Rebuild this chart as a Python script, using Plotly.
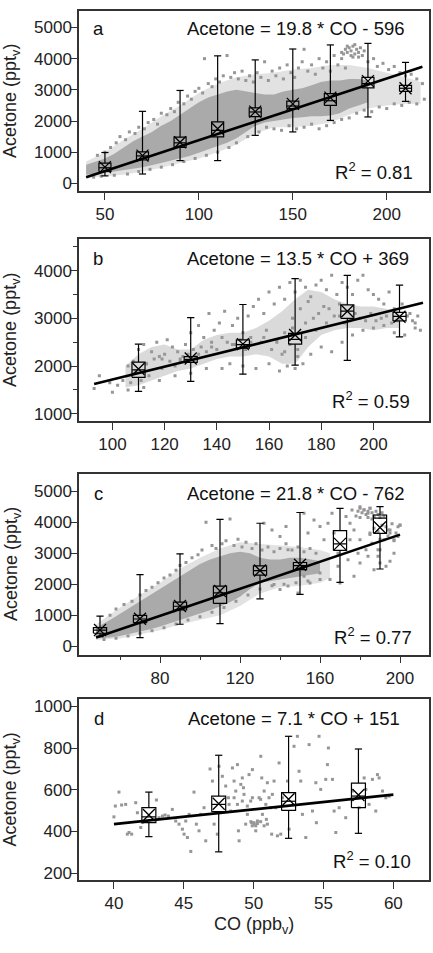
import plotly.graph_objects as go

# ---------------- data ----------------
# Panel a
A_BOX_X = [50, 70, 90, 110, 130, 150, 170, 190, 210]
A_MIN = [240, 300, 730, 730, 1540, 1650, 2020, 2130, 2630]
A_Q1 = [380, 750, 1150, 1490, 2140, 2400, 2500, 3060, 2950]
A_MED = [500, 880, 1300, 1700, 2290, 2480, 2650, 3200, 3050]
A_Q3 = [650, 1010, 1480, 1970, 2420, 2640, 2880, 3400, 3140]
A_MAX = [990, 2310, 2980, 4090, 3960, 4310, 4440, 4490, 3880]
A_MEAN = [520, 890, 1320, 1750, 2300, 2550, 2750, 3280, 3050]

A_CORE_X = [40, 45, 50, 55, 60, 65, 70, 75, 80, 85, 90, 95, 100, 105, 110, 115, 120, 125, 130, 135, 140, 145, 150, 155, 160, 165, 170, 175, 180, 185, 190]
A_CORE_LO = [280, 300, 330, 380, 420, 470, 520, 580, 650, 730, 800, 880, 980, 1080, 1180, 1300, 1450, 1650, 1850, 1950, 2000, 2050, 2100, 2120, 2150, 2150, 2180, 2250, 2400, 2500, 2600]
A_CORE_HI = [600, 700, 800, 950, 1150, 1350, 1500, 1650, 1850, 2000, 2200, 2400, 2600, 2750, 2850, 2950, 3000, 2950, 2900, 2850, 2850, 2950, 3000, 3050, 3150, 3250, 3300, 3300, 3350, 3350, 3300]
A_HALO_X = [40, 50, 60, 70, 80, 90, 100, 110, 120, 130, 140, 150, 160, 170, 180, 190, 200, 210, 218]
A_HALO_LO = [180, 220, 280, 380, 500, 650, 800, 1000, 1250, 1600, 1800, 1800, 1850, 1950, 2200, 2400, 2500, 2550, 2550]
A_HALO_HI = [700, 1000, 1400, 1750, 2150, 2500, 2900, 3200, 3400, 3500, 3550, 3650, 3700, 3800, 3800, 3700, 3550, 3400, 3250]
A_PTS_X = [46, 50, 53, 56, 58, 61, 63, 66, 68, 71, 73, 76, 78, 80, 83, 85, 87, 89, 92, 94, 96, 98, 100, 102, 103, 105, 107, 109, 111, 113, 115, 117, 119, 121, 123, 125, 127, 129, 131, 133, 135, 137, 139, 141, 143, 145, 147, 149, 151, 153, 155, 156, 158, 160, 162, 164, 166, 168, 170, 172, 174, 176, 178, 190, 193, 195, 198, 201, 204, 207, 210, 213, 216, 219,
           44, 48, 55, 62, 68, 74, 80, 86, 92, 98, 104, 110, 116, 120, 126, 132, 136, 140, 144, 148, 152, 156, 160, 164, 168, 172, 176, 180, 184, 188, 192, 196, 200, 204, 208, 212, 216, 220,
           177, 178, 179, 180, 181, 182, 183, 184, 185, 186, 187, 181, 183, 179, 185, 188, 176, 182]
A_PTS_Y = [900, 1000, 1150, 1300, 1500, 1400, 1650, 1600, 1800, 1750, 1950, 2050, 1900, 2250, 2200, 2400, 2300, 2600, 2550, 2800, 2700, 2950, 3050, 2900, 4000, 3200, 3100, 3350, 3250, 3450, 4100, 3400, 3550, 3350, 3600, 3300, 3450, 3250, 3550, 3400, 3900, 3300, 3600, 3450, 3700, 3350, 3800, 3550, 3400, 3700, 3900, 4300, 3600, 3800, 3500, 4000, 3700, 3900, 3600, 4100, 3800, 4000, 3700, 3900, 4000, 3750, 3850, 3650, 3750, 3550, 3450, 3500, 3350, 3200,
           200, 230, 260, 300, 380, 450, 520, 600, 700, 800, 900, 1000, 1150, 1300, 1500, 1650, 1800, 1750, 1700, 1850, 1750, 1800, 1900, 1750, 1850, 1950, 2050, 2100, 2250, 2350, 2300, 2450, 2400, 2550, 2500, 2600, 2550, 2700,
           4150, 4300, 4200, 4350, 4250, 4400, 4150, 4300, 4200, 4350, 4100, 4100, 4450, 4400, 4050, 4250, 4200, 4050]

# Panel b
B_BOX_X = [110, 130, 150, 170, 190, 210]
B_MIN = [1470, 1680, 1830, 2020, 2120, 2610]
B_Q1 = [1765, 2080, 2375, 2460, 3000, 2945]
B_MED = [1920, 2140, 2450, 2560, 3150, 3040]
B_Q3 = [2085, 2200, 2550, 2685, 3280, 3125]
B_MAX = [2460, 3015, 3290, 3830, 3900, 3695]
B_MEAN = [1940, 2160, 2460, 2650, 3150, 3035]

B_CORE_X = [105, 110, 115, 120, 125, 130, 135, 140, 145, 150, 155, 160, 165, 170, 175, 180, 185, 190, 195, 200, 205, 210]
B_CORE_LO = [1550, 1600, 1700, 1800, 1900, 1950, 2050, 2150, 2200, 2200, 2250, 2200, 2050, 2050, 2400, 2650, 2750, 2800, 2800, 2750, 2800, 2800]
B_CORE_HI = [2000, 2250, 2400, 2450, 2350, 2350, 2550, 2650, 2700, 2700, 2800, 2950, 3150, 3400, 3600, 3550, 3400, 3300, 3250, 3250, 3200, 3150]
B_PTS_X = [93, 95, 99, 100, 102, 104, 106, 108, 110, 112, 115, 117, 118, 121, 123, 125, 127, 128, 130, 131, 133, 135, 137, 139, 141, 143, 144, 146, 148, 150, 152, 154, 156, 158, 160, 162, 164, 166, 168, 170, 172, 174, 176, 178, 180, 182, 184, 186, 188, 190, 192, 194, 196, 198, 200, 202, 204, 206, 208, 211, 214, 216, 218,
           106, 112, 118, 124, 130, 136, 142, 145, 150, 155, 160, 164, 167, 170, 173, 176, 180, 184, 188, 192, 196, 200, 204, 208, 212, 216,
           108, 113, 119, 126, 133, 138, 147, 153, 158, 163, 166, 169, 171, 174, 179, 183, 187, 191, 197, 203, 209, 213,
           107, 109, 111, 113, 114, 116, 119, 120, 122, 124, 126, 129, 132, 134, 136, 138, 140, 142, 146, 149, 151, 153, 157, 159, 161, 163, 165, 166, 168, 169, 171, 172, 174, 175, 177, 178, 181, 182, 185, 187, 189, 193, 195, 199, 201, 205, 207, 210, 215, 217]
B_PTS_Y = [1530, 1800, 1650, 1450, 1600, 1700, 2000, 2100, 2350, 2450, 2300, 2500, 2200, 2550, 2400, 2300, 2200, 2450, 2700, 2350, 2850, 2600, 3100, 2750, 2900, 3150, 2500, 2850, 3000, 2700, 3050, 3250, 3400, 3100, 3550, 3300, 3650, 3400, 3750, 3550, 3800, 3650, 3450, 3700, 3800, 3600, 3900, 3500, 3750, 3650, 3500, 3800, 3900, 3600, 3500, 3400, 3300, 3550, 3200, 3300, 3100, 2900, 2750,
           1500, 1550, 1700, 1800, 1850, 1950, 1950, 2050, 2000, 1950, 2050, 1900, 2000, 1950, 2050, 2250, 2400, 2300, 2500, 2650, 2750, 2800, 2850, 2700, 2650, 2800,
           1850, 2050, 2150, 2100, 2250, 2400, 2450, 2500, 2600, 2500, 2300, 2800, 2200, 2900, 3100, 3200, 3050, 2950, 2950, 3000, 2950, 3050,
           1650, 1900, 1700, 2050, 1800, 2150, 1950, 2250, 2100, 2000, 2150, 2250, 2200, 2400, 2300, 2500, 2350, 2600, 2450, 2550, 2350, 2600, 2500, 2750, 2350, 2550, 2250, 2700, 2450, 3000, 2350, 3200, 2600, 3350, 3000, 2750, 3250, 2900, 3050, 3300, 2900, 3100, 3000, 3100, 2950, 3050, 2900, 3000, 2950, 3050]

# Panel c
C_BOX_X = [50, 70, 90, 110, 130, 150, 170, 190]
C_MIN = [310, 280, 710, 730, 1530, 1670, 2060, 2490]
C_Q1 = [420, 760, 1170, 1380, 2290, 2470, 3090, 3640]
C_MED = [520, 880, 1290, 1720, 2440, 2600, 3300, 4130]
C_Q3 = [600, 995, 1420, 1940, 2590, 2700, 3730, 4230]
C_MAX = [975, 2310, 2980, 4090, 3965, 4310, 4445, 4500]
C_MEAN = [525, 890, 1300, 1780, 2440, 2630, 3300, 3830]

C_CORE_X = [48, 55, 60, 65, 70, 75, 80, 85, 90, 95, 100, 105, 110, 115, 120, 125, 130, 135, 140, 145, 150, 155, 160]
C_CORE_LO = [250, 280, 330, 400, 470, 550, 640, 740, 850, 950, 1060, 1160, 1280, 1420, 1600, 1850, 2050, 2100, 2150, 2200, 2250, 2300, 2350]
C_CORE_HI = [600, 850, 1050, 1250, 1450, 1650, 1850, 2050, 2250, 2450, 2650, 2800, 2900, 3000, 3050, 3000, 2850, 2800, 2800, 2850, 2850, 2800, 2750]
C_HALO_X = [48, 60, 70, 80, 90, 100, 110, 120, 130, 140, 150, 160, 165]
C_HALO_LO = [200, 250, 380, 520, 700, 850, 1000, 1300, 1700, 1900, 1950, 2050, 2200]
C_HALO_HI = [700, 1250, 1650, 2050, 2500, 2850, 3150, 3350, 3300, 3250, 3200, 3100, 3000]
C_PTS_X = [55, 58, 62, 66, 70, 73, 76, 79, 82, 85, 88, 90, 93, 96, 99, 101, 103, 106, 108, 111, 113, 115, 117, 119, 121, 123, 126, 128, 131, 134, 137, 140, 143, 146, 149, 152, 155, 158,
           52, 58, 64, 70, 76, 82, 88, 94, 100, 106, 112, 118, 124, 130, 136, 142, 148, 154, 160,
           132, 136, 140, 143, 144, 152, 154, 157, 160, 162, 164, 166, 167, 169, 173, 175, 175, 176, 177, 179, 180, 182, 184, 185, 187, 180, 183, 185, 186, 189, 192, 194, 195, 197, 199, 200,
           160, 165, 169, 170, 174, 177, 180, 184, 187, 190, 193, 195, 152, 155, 144, 149, 137, 140, 189, 197, 190,
           178, 179, 180, 181, 182, 183, 184, 185, 186, 187, 188, 189, 190, 191, 180, 184, 186, 192,
           185, 187, 189, 191, 193, 195, 196, 198, 199, 200, 194, 197, 190]
C_PTS_Y = [1000, 1200, 1350, 1450, 1650, 1800, 1900, 2050, 2200, 2300, 2450, 2600, 2700, 2850, 2950, 3100, 4000, 3250, 3150, 3300, 3400, 4100, 3250, 3450, 3200, 3350, 3150, 3300, 3100, 3200, 3050, 3150, 3300, 3100, 3200, 3050, 3150, 3000,
           220, 260, 330, 420, 500, 600, 720, 850, 950, 1100, 1250, 1450, 1650, 1850, 1950, 2000, 2050, 2100, 2150,
           3965, 3750, 3540, 3860, 3110, 4290, 3650, 4070, 3860, 3430, 3965, 4290, 3650, 3000, 4180, 3965, 3430, 4390, 3750, 3000, 4500, 4390, 4290, 4450, 4180, 3430, 3110, 3650, 3320, 3110, 3430, 3750, 3650, 3430, 3540, 3910,
           2360, 2150, 2580, 2040, 2790, 2260, 2680, 2900, 2470, 2680, 2580, 2740, 2260, 2040, 1940, 1720, 1990, 1830, 2900, 3000, 3110,
           4200, 4350, 4450, 4300, 4400, 4250, 4350, 4450, 4300, 4200, 4350, 4250, 4150, 4300, 4150, 4150, 4100, 4200,
           3600, 3800, 3700, 3900, 3850, 3750, 3950, 3650, 3850, 3900, 3550, 3400, 3450]

# Panel d
D_BOX_X = [42.5, 47.5, 52.5, 57.5]
D_MIN = [375, 302, 367, 391]
D_Q1 = [442, 495, 501, 514]
D_MED = [470, 530, 545, 570]
D_Q3 = [514, 570, 586, 632]
D_MAX = [589, 766, 857, 796]
D_MEAN = [479, 533, 555, 575]
D_PTS_X = [40.36, 40.0, 40.1, 40.55, 40.84, 41.08, 41.27, 40.96, 41.56, 41.68, 41.92, 42.03, 43.04, 43.23, 43.47, 43.66, 43.9, 44.18, 44.42, 44.66,
           44.9, 45.02, 45.26, 45.5, 45.14, 45.38, 45.73, 45.9, 46.09, 46.21, 46.45, 46.57, 46.88, 47.05, 47.17, 47.4, 47.52, 47.76, 48.0, 48.19,
           48.24, 48.36, 48.48, 48.6, 48.72, 48.84, 48.91, 48.96, 49.08, 49.19, 49.27, 49.31, 49.43, 49.55, 49.67, 49.79, 49.86, 49.91, 50.03, 50.15,
           50.27, 50.39, 50.51, 50.58, 50.63, 50.75, 50.87, 50.91, 50.98, 51.1, 51.22, 51.29, 51.34, 51.46, 51.58, 51.7, 51.82, 51.94, 52.06, 52.89,
           53.13, 53.25, 53.37, 53.49, 53.73, 53.97, 54.21, 54.45, 54.49, 54.68, 54.8, 55.16, 55.28, 55.35, 55.64, 55.76, 55.88, 56.12, 56.59, 57.07,
           57.55, 57.91, 58.03, 58.26, 58.5, 58.74, 58.86, 58.98, 59.22, 59.46, 59.7,
           49.8, 50.03, 50.27, 50.5, 49.9, 50.15, 50.75, 50.98, 48.6, 48.84, 49.19, 49.55, 49.91, 50.5, 52.54, 52.42]
D_PTS_Y = [589, 470, 522, 527, 530, 395, 387, 387, 538, 490, 419, 443, 551, 466, 474, 479, 474, 506, 450, 435,
           411, 387, 371, 304, 450, 482, 589, 435, 403, 482, 514, 355, 700, 642, 435, 387, 713, 665, 618, 562,
           530, 498, 705, 642, 594, 721, 403, 355, 626, 657, 610, 578, 435, 482, 673, 546, 442, 697, 435, 403,
           450, 562, 761, 657, 482, 594, 530, 458, 634, 562, 514, 387, 578, 642, 514, 379, 729, 387, 562, 809,
           857, 689, 642, 482, 371, 817, 498, 634, 442, 857, 602, 650, 721, 801, 650, 498, 395, 514, 466, 594,
           514, 657, 602, 530, 650, 498, 673, 657, 594, 562, 570,
           447, 442, 438, 447, 427, 427, 427, 435, 562, 530, 546, 522, 562, 554, 411, 642]

SLOPE = [19.8, 13.5, 21.8, 7.1]
INTERCEPT = [-596, 369, -762, 151]
FIT_X0 = [40, 93, 48, 40]
FIT_X1 = [219, 219, 200, 60]
EQ_TEXT = ["Acetone = 19.8 * CO - 596", "Acetone = 13.5 * CO + 369",
           "Acetone = 21.8 * CO - 762", "Acetone = 7.1 * CO + 151"]
R2_TEXT = ["0.81", "0.59", "0.77", "0.10"]
LETTERS = ["a", "b", "c", "d"]

# ---------------- layout geometry ----------------
W, H = 433, 953
X_DOM = [79 / W, 429 / W]
PANEL_PX = [(9, 190), (238.3, 421), (474, 656), (700.7, 882.7)]
X_RANGES = [[36.2, 222.5], [87.2, 221.3], [39.5, 214.5], [37.5, 62.55]]
Y_RANGES = [[-245, 5530], [855, 4660], [-266, 5567], [166.5, 1036]]
X_TICKS = [[50, 100, 150, 200], [100, 120, 140, 160, 180, 200], [80, 120, 160, 200], [40, 45, 50, 55, 60]]
Y_TICKS = [[0, 1000, 2000, 3000, 4000, 5000], [1000, 2000, 3000, 4000],
           [0, 1000, 2000, 3000, 4000, 5000], [200, 400, 600, 800, 1000]]
X_MINOR = [None, None, [60, 100, 140, 180], None]
Y_MINOR = [None, [1500, 2500, 3500, 4500], None, None]
BOX_HALF = [3.2, 2.5, 3.3, 0.5]
CAP_HALF = [1.9, 1.4, 1.8, 0.26]
EQ_POS = [(407, 27), (410.7, 258), (406.7, 494), (402.3, 720)]
R2_POS = [(415, 170), (412, 400), (414, 637), (413, 863)]
LETTER_POS = [(91, 27), (91, 258), (92, 494), (92, 720)]

GRAY = "rgb(150,150,150)"
FONT = "Liberation Sans, Arial, sans-serif"

fig = go.Figure()

panels = [
    dict(box=(A_BOX_X, A_MIN, A_Q1, A_MED, A_Q3, A_MAX, A_MEAN),
         halo=(A_HALO_X, A_HALO_LO, A_HALO_HI), core=(A_CORE_X, A_CORE_LO, A_CORE_HI),
         pts=(A_PTS_X, A_PTS_Y), halo_op=0.28, core_col="rgb(170,170,170)"),
    dict(box=(B_BOX_X, B_MIN, B_Q1, B_MED, B_Q3, B_MAX, B_MEAN),
         halo=None, core=(B_CORE_X, B_CORE_LO, B_CORE_HI),
         pts=(B_PTS_X, B_PTS_Y), halo_op=0, core_col="rgba(150,150,150,0.35)"),
    dict(box=(C_BOX_X, C_MIN, C_Q1, C_MED, C_Q3, C_MAX, C_MEAN),
         halo=(C_HALO_X, C_HALO_LO, C_HALO_HI), core=(C_CORE_X, C_CORE_LO, C_CORE_HI),
         pts=(C_PTS_X, C_PTS_Y), halo_op=0.28, core_col="rgb(170,170,170)"),
    dict(box=(D_BOX_X, D_MIN, D_Q1, D_MED, D_Q3, D_MAX, D_MEAN),
         halo=None, core=None, pts=(D_PTS_X, D_PTS_Y), halo_op=0, core_col=GRAY),
]


def band(xs, lo, hi):
    return list(xs) + list(xs)[::-1] + [xs[0]], list(lo) + list(hi)[::-1] + [lo[0]]


for i, p in enumerate(panels):
    n = i + 1
    xa = "x" if n == 1 else f"x{n}"
    ya = "y" if n == 1 else f"y{n}"
    common = dict(xaxis=xa, yaxis=ya, showlegend=False, hoverinfo="skip")
    if p["halo"] is not None:
        hx, hy = band(*p["halo"])
        fig.add_trace(go.Scatter(x=hx, y=hy, mode="lines", fill="toself", line=dict(width=0),
                                 fillcolor=f"rgba(150,150,150,{p['halo_op']})", **common))
    if p["core"] is not None:
        cx, cy = band(*p["core"])
        fig.add_trace(go.Scatter(x=cx, y=cy, mode="lines", fill="toself", line=dict(width=0),
                                 fillcolor=p["core_col"], **common))
    fig.add_trace(go.Scatter(x=p["pts"][0], y=p["pts"][1], mode="markers",
                             marker=dict(symbol="square", size=3, color=GRAY, line=dict(width=0)), **common))

    bx, bmin, bq1, bmed, bq3, bmax, bmean = p["box"]
    hw, cw = BOX_HALF[i], CAP_HALF[i]
    lx, ly = [], []
    for x, mn, q1, md, q3, mx in zip(bx, bmin, bq1, bmed, bq3, bmax):
        lx += [x - hw, x + hw, x + hw, x - hw, x - hw, None]
        ly += [q1, q1, q3, q3, q1, None]
        lx += [x - hw, x + hw, None]
        ly += [md, md, None]
        lx += [x, x, None, x, x, None]
        ly += [q3, mx, None, q1, mn, None]
        lx += [x - cw, x + cw, None, x - cw, x + cw, None]
        ly += [mx, mx, None, mn, mn, None]
    fig.add_trace(go.Scatter(x=lx, y=ly, mode="lines", line=dict(color="black", width=1.2), **common))
    fig.add_trace(go.Scatter(x=bx, y=bmean, mode="markers",
                             marker=dict(symbol="x-thin-open", size=12, color="black",
                                         line=dict(color="black", width=1.3)), **common))
    fx = [FIT_X0[i], FIT_X1[i]]
    fy = [SLOPE[i] * v + INTERCEPT[i] for v in fx]
    fig.add_trace(go.Scatter(x=fx, y=fy, mode="lines", line=dict(color="black", width=2.6), **common))

    top, bot = PANEL_PX[i]
    axis_common = dict(showline=True, linecolor="#333", linewidth=1.5, mirror=True,
                       ticks="outside", ticklen=7, tickwidth=1.2, tickcolor="#333",
                       showgrid=False, zeroline=False,
                       tickfont=dict(family=FONT, size=17, color="#222"))
    xkw = dict(axis_common, domain=X_DOM, range=X_RANGES[i], tickmode="array",
               tickvals=X_TICKS[i], anchor=ya, ticklabelstandoff=0)
    if X_MINOR[i]:
        xkw["minor"] = dict(tickvals=X_MINOR[i], ticks="outside", ticklen=4, tickcolor="#333", showgrid=False)
    ykw = dict(axis_common, domain=[1 - bot / H, 1 - top / H], range=Y_RANGES[i], tickmode="array",
               tickvals=Y_TICKS[i], anchor=xa, ticklabelstandoff=-5)
    if Y_MINOR[i]:
        ykw["minor"] = dict(tickvals=Y_MINOR[i], ticks="outside", ticklen=4, tickcolor="#333", showgrid=False)
    fig.update_layout(**{("xaxis" if n == 1 else f"xaxis{n}"): xkw,
                         ("yaxis" if n == 1 else f"yaxis{n}"): ykw})

    afont = dict(family=FONT, size=18.5, color="#111")
    fig.add_annotation(x=LETTER_POS[i][0] / W, y=1 - LETTER_POS[i][1] / H, xref="paper", yref="paper",
                       text=LETTERS[i], showarrow=False, xanchor="left", yanchor="middle", font=afont)
    fig.add_annotation(x=EQ_POS[i][0] / W, y=1 - EQ_POS[i][1] / H, xref="paper", yref="paper",
                       text=EQ_TEXT[i], showarrow=False, xanchor="right", yanchor="middle", font=afont)
    fig.add_annotation(x=R2_POS[i][0] / W, y=1 - R2_POS[i][1] / H, xref="paper", yref="paper",
                       text=f"R<sup>2</sup> = {R2_TEXT[i]}", showarrow=False, xanchor="right",
                       yanchor="middle", font=afont)
    fig.add_annotation(x=12 / W, y=1 - (top + bot) / 2 / H, xref="paper", yref="paper",
                       text="Acetone (ppt<sub>v</sub>)", textangle=-90, showarrow=False,
                       xanchor="center", yanchor="middle", font=dict(family=FONT, size=18, color="#222"))

fig.add_annotation(x=254 / W, y=1 - 928 / H, xref="paper", yref="paper", text="CO (ppb<sub>v</sub>)",
                   showarrow=False, xanchor="center", yanchor="middle",
                   font=dict(family=FONT, size=18, color="#222"))

fig.update_layout(width=W, height=H, margin=dict(l=0, r=0, t=0, b=0),
                  paper_bgcolor="white", plot_bgcolor="white")
fig.write_html("out.html")
